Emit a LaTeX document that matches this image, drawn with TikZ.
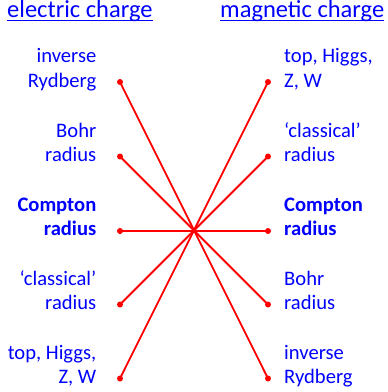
\documentclass[tikz,border=0pt]{standalone}
\usepackage{fontspec}
\setmainfont{Carlito}
\definecolor{txtblue}{RGB}{0,0,255}
\definecolor{linered}{RGB}{255,0,0}
\begin{document}
\begin{tikzpicture}[x=1bp,y=-1bp,
  head/.style={inner sep=0pt,text=txtblue,font=\fontsize{24.5bp}{28bp}\selectfont},
  lab/.style={inner sep=0pt,text=txtblue,font=\fontsize{20.6bp}{24.5bp}\selectfont},
  labL/.style={lab,align=right,anchor=base east},
  labR/.style={lab,align=left,anchor=base west},
  dot/.style={circle,fill=linered,inner sep=0pt,minimum size=6bp},
  link/.style={draw=linered,line width=1.8bp}]
\useasboundingbox (0,0) rectangle (388,392);
% headers
\node[head,anchor=base west] (hE) at (7,17) {electric charge};
\node[head,anchor=base west] (hM) at (220,17) {magnetic charge};
\draw[txtblue,line width=1.4bp] ([yshift=-3.6bp]hE.base west) -- ([yshift=-3.6bp]hE.base east);
\draw[txtblue,line width=1.4bp] ([yshift=-3.6bp]hM.base west) -- ([yshift=-3.6bp]hM.base east);
% left labels (anchor at baseline of the last line)
\node[labL] (e1) at (96.5,87) {inverse\\Rydberg};
\node[labL] (e2) at (96.5,161.5) {Bohr\\radius};
\node[labL] (e3) at (96.5,235.5) {\bfseries Compton\\\bfseries radius};
\node[labL] (e4) at (96.5,309.5) {‘classical’\\radius};
\node[labL] (e5) at (96.5,383.5) {top, Higgs,\\Z, W};
% right labels
\node[labR] (m1) at (284,87) {top, Higgs,\\Z, W};
\node[labR] (m2) at (284,161.5) {‘classical’\\radius};
\node[labR] (m3) at (284,235.5) {\bfseries Compton\\\bfseries radius};
\node[labR] (m4) at (284,309.5) {Bohr\\radius};
\node[labR] (m5) at (284,383.5) {inverse\\Rydberg};
% dots
\node[dot] (a1) at (120,82) {};
\node[dot] (a2) at (120,156.5) {};
\node[dot] (a3) at (120,231) {};
\node[dot] (a4) at (120,304.5) {};
\node[dot] (a5) at (120,378.5) {};
\node[dot] (b1) at (268,82) {};
\node[dot] (b2) at (268,156.5) {};
\node[dot] (b3) at (268,231) {};
\node[dot] (b4) at (268,304.5) {};
\node[dot] (b5) at (268,378.5) {};
% connectors
\draw[link] (a1.center) -- (b5.center);
\draw[link] (a2.center) -- (b4.center);
\draw[link] (a3.center) -- (b3.center);
\draw[link] (a4.center) -- (b2.center);
\draw[link] (a5.center) -- (b1.center);
\end{tikzpicture}
\end{document}
